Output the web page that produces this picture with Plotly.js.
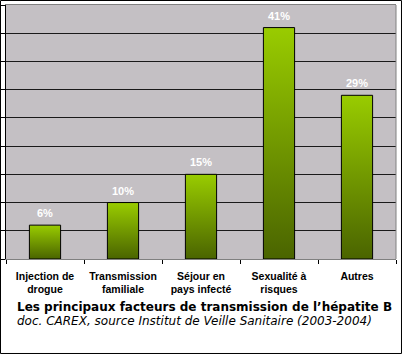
<!DOCTYPE html>
<html><head><meta charset="utf-8">
<script src="https://cdn.plot.ly/plotly-3.0.1.min.js"></script>
<style>html,body{margin:0;padding:0;background:#fff}#c{width:402px;height:354px}</style>
</head><body><div id="c"></div>
<script>
const categories = ["Injection de<br>drogue","Transmission<br>familiale","Séjour en<br>pays infecté","Sexualité à<br>risques","Autres"];
const values = [6, 10, 15, 41, 29];
const valueLabels = ["6%","10%","15%","41%","29%"];
const titleText = "Les principaux facteurs de transmission de l’hépatite B";
const sourceText = "doc. CAREX, source Institut de Veille Sanitaire (2003-2004)";

const trace = {
  type: 'bar', x: categories, y: values,
  marker: {color: '#99CC00', line: {color: '#000', width: 1}},
  hoverinfo: 'none'
};
const annotations = categories.map((c, i) => ({
  x: c, y: values[i], xref: 'x', yref: 'y', text: '<b>' + valueLabels[i] + '</b>',
  showarrow: false, yanchor: 'bottom', yshift: 4,
  font: {family: 'Liberation Sans, Arial, sans-serif', size: 11, color: '#ffffff'}
}));
annotations.push({
  xref: 'paper', yref: 'paper', x: 0.023, y: -0.19, xanchor: 'left', yanchor: 'middle',
  text: '<b>' + titleText + '</b>', showarrow: false,
  font: {family: 'DejaVu Sans, Verdana, sans-serif', size: 12, color: '#000'}
});
annotations.push({
  xref: 'paper', yref: 'paper', x: 0.023, y: -0.246, xanchor: 'left', yanchor: 'middle',
  text: '<i>' + sourceText + '</i>', showarrow: false,
  font: {family: 'DejaVu Sans, Verdana, sans-serif', size: 12, color: '#000'}
});
const layout = {
  width: 402, height: 354,
  margin: {l: 6, r: 6, t: 5, b: 95, pad: 0},
  paper_bgcolor: '#ffffff', plot_bgcolor: '#C4C0C4',
  bargap: 0.6, showlegend: false,
  xaxis: {
    type: 'category', showline: true, linecolor: '#808080', linewidth: 1, mirror: true,
    ticks: 'outside', tickson: 'boundaries', ticklen: 4, tickcolor: '#000', tickwidth: 1,
    ticklabelstandoff: 7,
    showgrid: false, zeroline: false, fixedrange: true,
    tickfont: {family: 'Liberation Sans, Arial, sans-serif', size: 10.5, color: '#000', weight: 'bold'}
  },
  yaxis: {
    range: [0, 45], dtick: 5, showticklabels: false, showline: true, linecolor: '#000', linewidth: 1,
    ticks: 'outside', ticklen: 4, tickcolor: '#000', showgrid: true, gridcolor: '#1a1a1a', gridwidth: 1,
    zeroline: false, fixedrange: true
  },
  annotations: annotations,
  shapes: [
    {type: 'rect', xref: 'paper', yref: 'paper', x0: -0.0141, x1: 1.0141, y0: -0.372, y1: 1.0177,
     line: {color: '#000', width: 1}, fillcolor: 'rgba(0,0,0,0)'},
    {type: 'line', xref: 'paper', yref: 'paper', x0: 1, x1: 1, y0: 0, y1: 1,
     line: {color: '#808080', width: 1}}
  ]
};
Plotly.newPlot('c', [trace], layout, {staticPlot: true, displayModeBar: false}).then(gd => {
  const svg = gd.querySelector('.main-svg');
  const ns = 'http://www.w3.org/2000/svg';
  let defs = svg.querySelector('defs');
  if (!defs) { defs = document.createElementNS(ns, 'defs'); svg.insertBefore(defs, svg.firstChild); }
  const lg = document.createElementNS(ns, 'linearGradient');
  lg.setAttribute('id', 'barGrad'); lg.setAttribute('x1', '0'); lg.setAttribute('y1', '0');
  lg.setAttribute('x2', '0'); lg.setAttribute('y2', '1');
  [['0', '#99CC00'], ['1', '#4A6400']].forEach(([o, c]) => {
    const s = document.createElementNS(ns, 'stop');
    s.setAttribute('offset', o); s.setAttribute('stop-color', c); lg.appendChild(s);
  });
  defs.appendChild(lg);
  gd.querySelectorAll('.barlayer .point path').forEach(p => { p.style.fill = 'url(#barGrad)'; });
});
</script>
</body></html>
